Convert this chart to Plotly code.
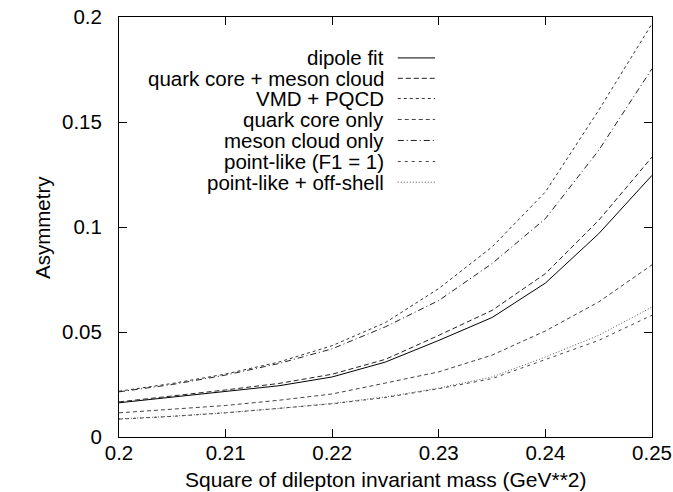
import plotly.graph_objects as go

# x values (GeV**2)
mass_sq = [0.200, 0.205, 0.210, 0.215, 0.220, 0.225, 0.230, 0.235, 0.240, 0.245, 0.250]

dipole_fit = [0.0163, 0.0190, 0.0220, 0.0244, 0.0286, 0.0357, 0.0460, 0.0569, 0.0733, 0.0968, 0.1246]
quark_core_meson_cloud = [0.0167, 0.0195, 0.0224, 0.0255, 0.0299, 0.0370, 0.0484, 0.0603, 0.0778, 0.1032, 0.1333]
vmd_pqcd = [0.0218, 0.0255, 0.0300, 0.0357, 0.0435, 0.0545, 0.0707, 0.0905, 0.1167, 0.1556, 0.1968]
quark_core_only = [0.0115, 0.0132, 0.0150, 0.0175, 0.0205, 0.0257, 0.0310, 0.0390, 0.0505, 0.0643, 0.0820]
meson_cloud_only = [0.0215, 0.0250, 0.0295, 0.0350, 0.0420, 0.0525, 0.0650, 0.0826, 0.1040, 0.1365, 0.1754]
point_like = [0.0085, 0.0098, 0.0115, 0.0135, 0.0158, 0.0188, 0.0230, 0.0278, 0.0368, 0.0460, 0.0580]
point_like_off_shell = [0.0086, 0.0099, 0.0116, 0.0136, 0.0160, 0.0191, 0.0233, 0.0286, 0.0381, 0.0484, 0.0619]

series_names = ["dipole fit", "quark core + meson cloud", "VMD + PQCD", "quark core only",
                "meson cloud only", "point-like (F1 = 1)", "point-like + off-shell"]
series_values = [dipole_fit, quark_core_meson_cloud, vmd_pqcd, quark_core_only,
                 meson_cloud_only, point_like, point_like_off_shell]

x_ticks = [0.2, 0.21, 0.22, 0.23, 0.24, 0.25]
x_tick_labels = ["0.2", "0.21", "0.22", "0.23", "0.24", "0.25"]
y_ticks = [0, 0.05, 0.1, 0.15, 0.2]
y_tick_labels = ["0", "0.05", "0.1", "0.15", "0.2"]

x_title = "Square of dilepton invariant mass (GeV**2)"
y_title = "Asymmetry"

dashes = ["solid", "5px,3px", "3px,3px", "4px,3px", "6px,3px,1px,3px", "3px,4px", "1px,2px"]
colors = ["#000000", "#222222", "#333333", "#444444", "#222222", "#444444", "#555555"]

FONT = "Liberation Sans, Arial, Helvetica, sans-serif"

fig = go.Figure()
for name, vals, d, c in zip(series_names, series_values, dashes, colors):
    fig.add_trace(go.Scatter(x=mass_sq, y=vals, mode="lines", name=name,
                             line=dict(color=c, width=1, dash=d), showlegend=False))

# Manual legend (text right-aligned, sample on the right), gnuplot style
row_y = [0.9026, 0.854, 0.806, 0.756, 0.706, 0.656, 0.6066]
shapes = []
annotations = []
for name, d, c, yy in zip(series_names, dashes, colors, row_y):
    annotations.append(dict(x=0.501, y=yy, xref="paper", yref="paper", text=name,
                            showarrow=False, xanchor="right", yanchor="middle",
                            font=dict(family=FONT, size=20.5, color="black")))
    shapes.append(dict(type="line", xref="paper", yref="paper", x0=0.523, x1=0.593,
                       y0=yy, y1=yy, line=dict(color=c, width=1, dash=d)))

# Axis titles placed as annotations (gnuplot-like positions)
annotations.append(dict(x=0.5, y=-0.1, xref="paper", yref="paper", text=x_title,
                        showarrow=False, xanchor="center", yanchor="middle",
                        font=dict(family=FONT, size=21, color="black")))
annotations.append(dict(x=-0.1445, y=0.5, xref="paper", yref="paper", text=y_title,
                        showarrow=False, xanchor="center", yanchor="middle", textangle=-90,
                        font=dict(family=FONT, size=20.5, color="black")))

axis_common = dict(showline=True, linecolor="black", linewidth=1, mirror="allticks",
                   ticks="inside", ticklen=8, tickcolor="black", tickwidth=1,
                   showgrid=False, zeroline=False, automargin=False,
                   tickfont=dict(family=FONT, size=20.5, color="black"))

fig.update_layout(
    width=673, height=492,
    margin=dict(l=119, r=21, t=17, b=55),
    paper_bgcolor="white", plot_bgcolor="white",
    xaxis=dict(range=[0.2, 0.25], tickvals=x_ticks, ticktext=x_tick_labels,
               ticklabelstandoff=-3, **axis_common),
    yaxis=dict(range=[0, 0.2], tickvals=y_ticks, ticktext=y_tick_labels,
               ticklabelstandoff=12, **axis_common),
    shapes=shapes, annotations=annotations,
)

fig.write_html("out.html", config={"displayModeBar": False},
               post_script="document.body.style.margin='0px';")
